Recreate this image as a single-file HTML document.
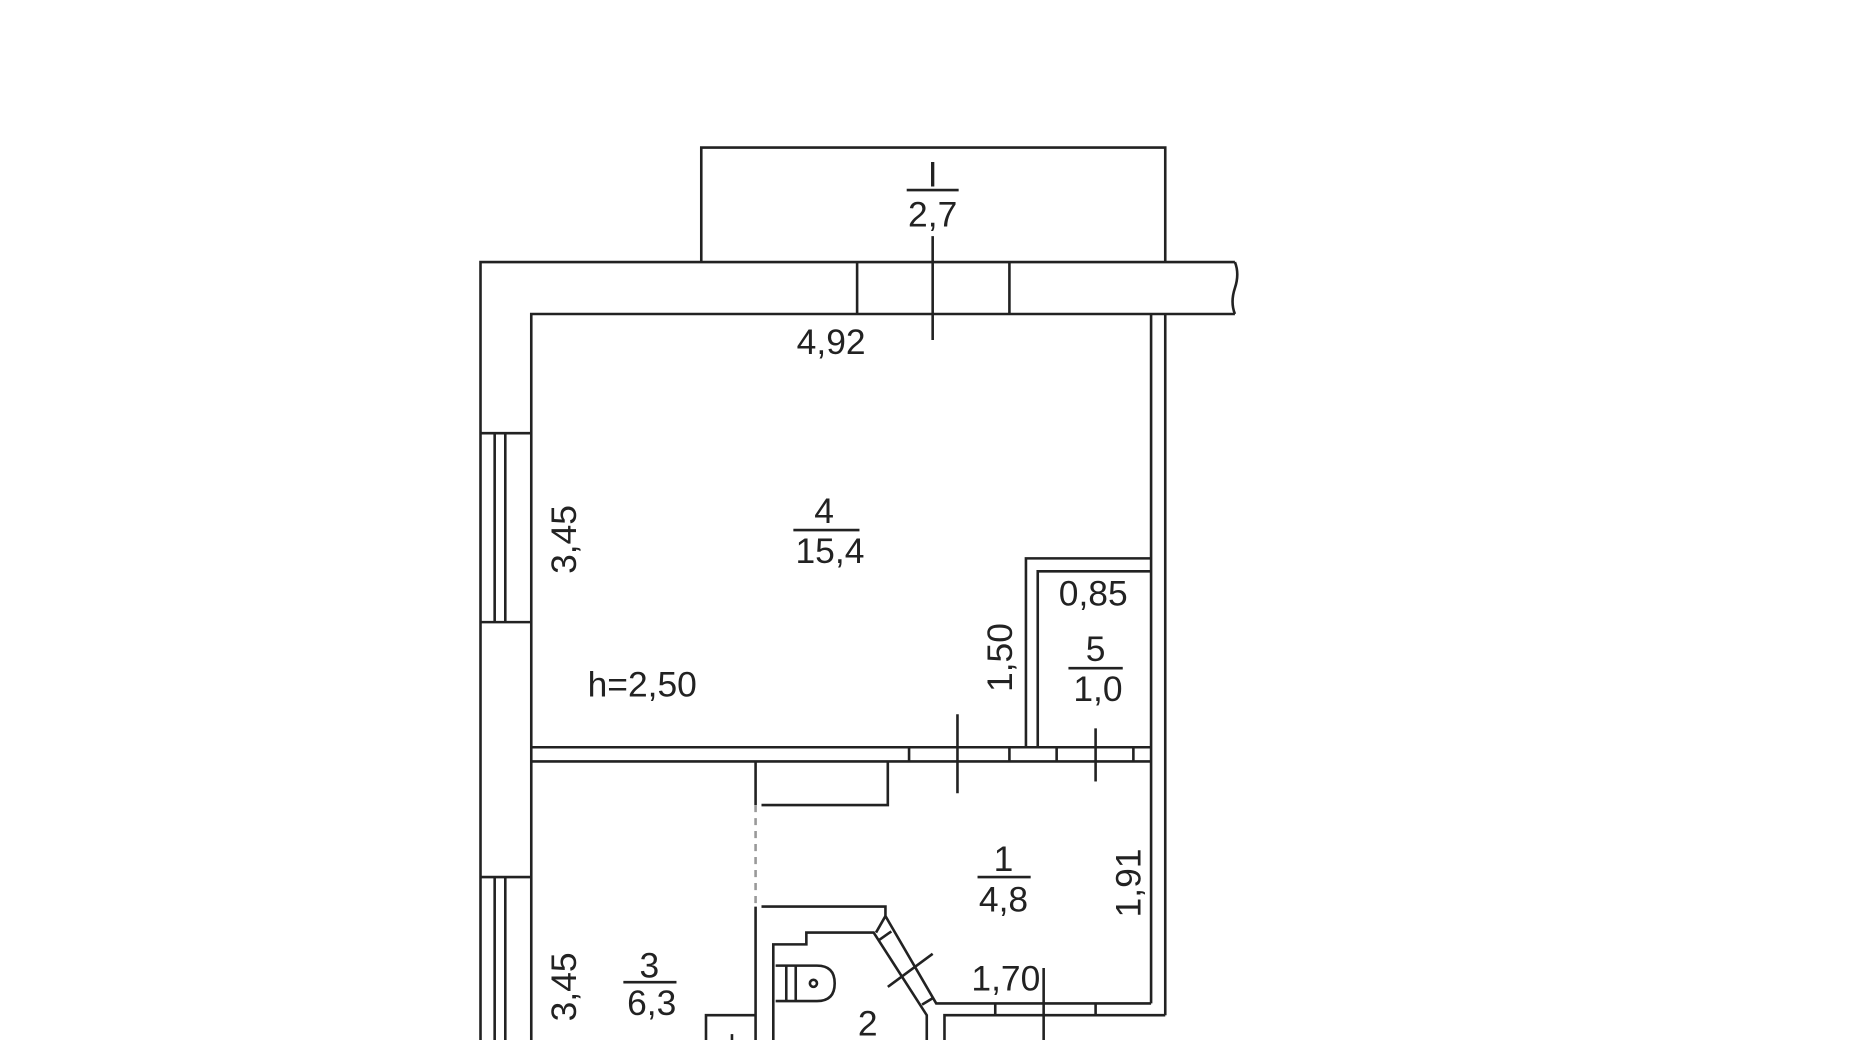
<!DOCTYPE html>
<html><head><meta charset="utf-8"><style>
html,body{margin:0;padding:0;background:#fff;width:1850px;height:1040px;overflow:hidden}
svg{display:block}
text{font-family:"Liberation Sans",Arial,sans-serif;font-size:30px;fill:#222;text-anchor:middle}
</style></head><body>
<svg width="1850" height="1040" viewBox="0 0 1567 881" preserveAspectRatio="none" xmlns="http://www.w3.org/2000/svg">
<g stroke="#222" stroke-width="2.2" fill="none">
<polyline points="594,222 594,125 987,125 987,222"/>
<polyline points="407,881 407,222 1046,222"/>
<path d="M1046,222 q4,10 0,22 q-4,12 0,22"/>
<polyline points="1046,266 450,266 450,881"/>
<line x1="726" y1="222" x2="726" y2="266"/>
<line x1="855" y1="222" x2="855" y2="266"/>
<line x1="790" y1="200" x2="790" y2="288"/>
<line x1="768" y1="161" x2="812" y2="161"/>
<line x1="407" y1="367" x2="450" y2="367"/>
<line x1="407" y1="527" x2="450" y2="527"/>
<line x1="419" y1="367" x2="419" y2="527"/>
<line x1="428" y1="367" x2="428" y2="527"/>
<line x1="407" y1="743" x2="450" y2="743"/>
<line x1="419" y1="743" x2="419" y2="881"/>
<line x1="428" y1="743" x2="428" y2="881"/>
<line x1="975" y1="266" x2="975" y2="850"/>
<line x1="987" y1="266" x2="987" y2="860"/>
<line x1="450" y1="633" x2="975" y2="633"/>
<line x1="450" y1="645" x2="975" y2="645"/>
<line x1="770" y1="633" x2="770" y2="645"/>
<line x1="855" y1="633" x2="855" y2="645"/>
<line x1="895" y1="633" x2="895" y2="645"/>
<line x1="960" y1="633" x2="960" y2="645"/>
<line x1="811" y1="605" x2="811" y2="672"/>
<line x1="928" y1="617" x2="928" y2="662"/>
<polyline points="869,633 869,473 975,473"/>
<polyline points="879,633 879,484 975,484"/>
<line x1="640" y1="645" x2="640" y2="682"/>
<line x1="640" y1="682" x2="640" y2="768" stroke-dasharray="6,5" stroke="#999"/>
<line x1="640" y1="768" x2="640" y2="881"/>
<polyline points="645,682 752,682 752,645"/>
<polyline points="645,768 750,768 750,776 793,850 975,850"/>
<polyline points="655,881 655,800 683,800 683,790 740,790 785,860 785,881"/>
<line x1="742" y1="790" x2="750" y2="776"/>
<polyline points="800,881 800,860 987,860"/>
<line x1="745" y1="796" x2="755" y2="789"/>
<line x1="781" y1="851" x2="791" y2="845"/>
<line x1="752" y1="836" x2="790" y2="808"/>
<line x1="843" y1="850" x2="843" y2="860"/>
<line x1="928" y1="850" x2="928" y2="860"/>
<line x1="884" y1="820" x2="884" y2="881"/>
<path d="M657,818 h35 q15,0 15,15 q0,15 -15,15 h-35"/>
<line x1="666" y1="818" x2="666" y2="848"/>
<line x1="674" y1="818" x2="674" y2="848"/>
<circle cx="689" cy="833" r="3"/>
<polyline points="598,881 598,860 640,860"/>
<line x1="620" y1="876" x2="620" y2="881"/>
<line x1="672" y1="449" x2="728" y2="449"/>
<line x1="905" y1="566" x2="951" y2="566"/>
<line x1="828" y1="743" x2="873" y2="743"/>
<line x1="528" y1="832" x2="573" y2="832"/>
</g>
<text x="790" y="158">I</text>
<text x="790" y="192">2,7</text>
<text x="704" y="300">4,92</text>
<text x="698" y="443">4</text>
<text x="703" y="477">15,4</text>
<text x="544" y="590">h=2,50</text>
<text x="926" y="513">0,85</text>
<text x="928" y="560">5</text>
<text x="930" y="594">1,0</text>
<text x="852" y="839">1,70</text>
<text x="850" y="738">1</text>
<text x="850" y="772">4,8</text>
<text x="550" y="828">3</text>
<text x="552" y="860">6,3</text>
<text x="735" y="877">2</text>
<text transform="translate(488,457) rotate(-90)">3,45</text>
<text transform="translate(488,836) rotate(-90)">3,45</text>
<text transform="translate(857,557) rotate(-90)">1,50</text>
<text transform="translate(966,748) rotate(-90)">1,91</text>
</svg>
</body></html>
